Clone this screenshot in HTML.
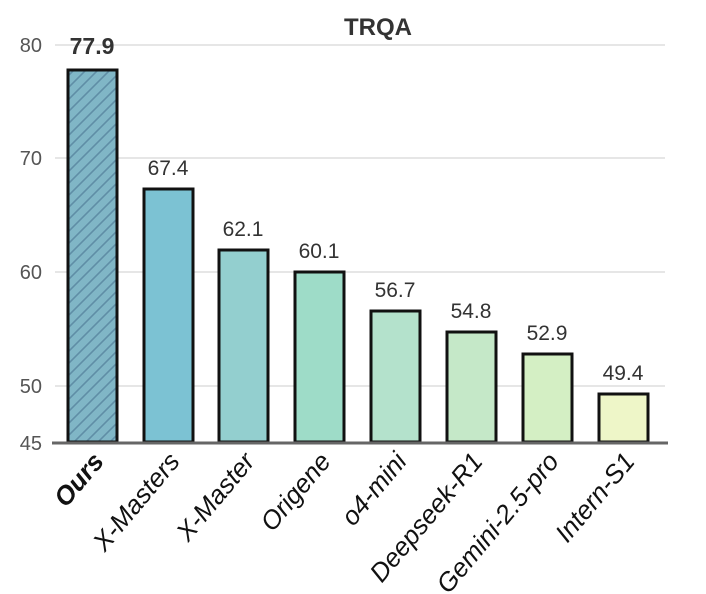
<!DOCTYPE html>
<html><head><style>body{margin:0;background:#fff}svg{display:block}</style></head><body>
<svg width="706" height="594" xmlns="http://www.w3.org/2000/svg" font-family="Liberation Sans, sans-serif">
<defs><pattern id="h" width="12" height="12" patternUnits="userSpaceOnUse"><rect width="12" height="12" fill="#80b6c6"/><path d="M-3,15 L15,-3 M-3,3 L3,-3 M9,15 L15,9" stroke="#5f8ea6" stroke-width="1.6"/></pattern></defs>
<text x="378" y="35" font-size="24" font-weight="bold" text-anchor="middle" fill="#333">TRQA</text>
<g stroke="#ddd" stroke-width="1.5">
<line x1="55" y1="45" x2="665" y2="45"/><line x1="55" y1="158" x2="665" y2="158"/><line x1="55" y1="272" x2="665" y2="272"/><line x1="55" y1="386" x2="665" y2="386"/></g>
<g font-size="20" fill="#555" text-anchor="end">
<text x="42" y="52">80</text><text x="42" y="165">70</text><text x="42" y="279">60</text><text x="42" y="393">50</text><text x="42" y="450">45</text></g>
<g stroke="#111" stroke-width="3">
<rect x="68" y="70" width="49" height="372" fill="url(#h)"/>
<rect x="144" y="189" width="49" height="253" fill="#7cc2d3"/>
<rect x="219" y="250" width="49" height="192" fill="#93cfcf"/>
<rect x="295" y="272" width="49" height="170" fill="#9edcc8"/>
<rect x="371" y="311" width="49" height="131" fill="#b4e2cc"/>
<rect x="447" y="332" width="49" height="110" fill="#c5e8c8"/>
<rect x="523" y="354" width="49" height="88" fill="#d4efc4"/>
<rect x="599" y="394" width="49" height="48" fill="#eef6c8"/>
</g>
<line x1="52" y1="443" x2="668" y2="443" stroke="#666" stroke-width="3"/>
<g font-size="21" fill="#333" text-anchor="middle">
<text x="92" y="54" font-weight="bold" font-size="23">77.9</text>
<text x="168" y="175">67.4</text><text x="243" y="236">62.1</text><text x="319" y="258">60.1</text>
<text x="395" y="297">56.7</text><text x="471" y="318">54.8</text><text x="547" y="340">52.9</text><text x="623" y="380">49.4</text></g>
<g font-size="26" font-style="italic" fill="#111" text-anchor="end">
<text transform="translate(105,462) rotate(-50)" font-weight="bold">Ours</text>
<text transform="translate(181,462) rotate(-50)">X-Masters</text>
<text transform="translate(256,462) rotate(-50)">X-Master</text>
<text transform="translate(332,462) rotate(-50)">Origene</text>
<text transform="translate(408,462) rotate(-50)">o4-mini</text>
<text transform="translate(484,462) rotate(-50)">Deepseek-R1</text>
<text transform="translate(560,462) rotate(-50)">Gemini-2.5-pro</text>
<text transform="translate(636,462) rotate(-50)">Intern-S1</text>
</g>
</svg>
</body></html>
